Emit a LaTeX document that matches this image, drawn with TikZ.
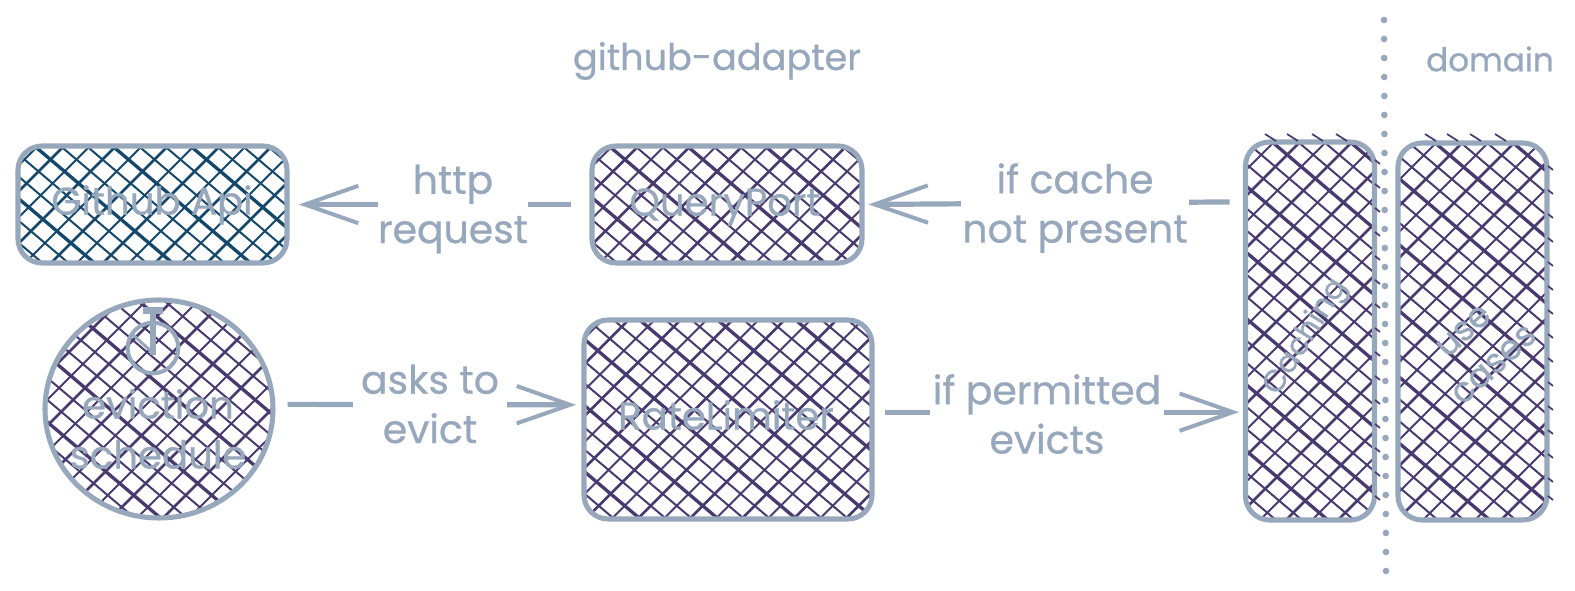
\documentclass[tikz,border=0pt]{standalone}
\usepackage{fontspec}
\usetikzlibrary{arrows.meta,shapes.geometric}
\setmainfont{Poppins}[FakeBold=0.7]
\definecolor{ink}{HTML}{98A8BC}
\definecolor{plum}{HTML}{483A6E}
\definecolor{teal2}{HTML}{14476A}
\tikzset{
  hatchfill/.style={path picture={
    \foreach \i in {-32,...,32}{
      \pgfmathsetmacro\wa{1.5+0.5*mod(\i*\i+\i,3)}
      \pgfmathsetmacro\wb{1.5+0.5*mod(\i*\i+2*\i+1,4)}
      \draw[#1,line width=\wa pt] (\i*26-250+3,-212) -- (\i*26+250+3,212);
      \draw[#1,line width=\wb pt] (\i*26+250+9,-250) -- (\i*26-250+9,250);
    }}},
  boxshape/.style={draw=ink,line width=3.8pt,rounded corners=18pt,inner sep=0pt,
    minimum width=#1},
  txt/.style={text=ink,font=\fontsize{29}{37.5}\selectfont,align=center,inner sep=0pt},
  title/.style={text=ink,font=\fontsize{#1}{34}\selectfont,inner sep=0pt},
  tilted/.style={text=ink,font=\fontsize{#1}{34}\selectfont,align=center,inner sep=0pt},
  lab/.style={text=ink,font=\fontsize{29.5}{37}\selectfont,align=center,fill=white,inner xsep=0pt,inner ysep=2pt},
  conn/.style={draw=ink,line width=3.9pt,-{Straight Barb[length=40pt,width=28pt,line width=3pt]}},
  tick/.style={draw=plum,line width=1.3pt},
}
\begin{document}
\begin{tikzpicture}[x=.75pt,y=-.75pt]
\useasboundingbox (0,0) rectangle (1575,591);

% boxes
\node[boxshape=201.75pt,minimum height=87.75pt,hatchfill=teal2] (github) at (152.5,204.5) {};
\node[boxshape=202.5pt,minimum height=87.75pt,hatchfill=plum] (query) at (727,204.5) {};
\node[boxshape=216pt,minimum height=149.25pt,hatchfill=plum] (rate) at (728,419.5) {};
\node[ellipse,draw=ink,line width=3.8pt,inner sep=0pt,minimum width=171pt,minimum height=163.5pt,hatchfill=plum] (evict) at (159,409) {};
\node[boxshape=96.75pt,minimum height=283.5pt,hatchfill=plum] (caching) at (1310,331) {};
\node[boxshape=111.75pt,minimum height=282.75pt,hatchfill=plum] (usecases) at (1472.5,331.5) {};

% hatch strokes that stray past the outlines
\foreach \x in {1265,1287,1312,1336}{\draw[tick] (\x,134) -- (\x+11,141);}
\foreach \y in {160,184,208,232,256,280,304,328,352,376,400,424,448,472,496}{\draw[tick] (1375,\y) -- (1380,\y+4);}
\foreach \x in {1425,1447,1470,1495}{\draw[tick] (\x,134) -- (\x+11,141);}
\foreach \y in {166,190,214,238,262,286,310,334,358,382,406,430,454,478,496}{\draw[tick] (1548,\y) -- (1553,\y+4);}

% timer icon
\node[circle,draw=ink,line width=3pt,inner sep=0pt,minimum size=38pt] (timer) at (153,348) {};
\draw[draw=ink,line width=5.5pt] (timer.north) ++(-10,-10) -- ++(20,0);
\draw[draw=ink,line width=4.5pt] (timer.north) ++(0,-10) -- ++(0,44);
\draw[draw=ink,line width=2.2pt] (timer.center) ++(-22,-15) -- ++(22,20);

% connectors
\draw[conn,shorten <=14pt,shorten >=7pt] (query.west) -- (github.east);
\draw[conn,shorten <=10pt,shorten >=3pt] ([yshift=2pt]caching.west |- query.west) -- (query.east);
\draw[conn,shorten <=9pt,shorten >=4pt] ([yshift=3.5pt]evict.east) -- ([yshift=11pt]rate.west);
\draw[conn,shorten <=8pt,shorten >=3pt] ([yshift=5.5pt]rate.east) -- ([yshift=5.5pt]rate.east -| caching.west);

% connector labels
\node[lab,minimum width=112.5pt] (lhttp) at (453,209) {http\\request};
\node[lab,minimum width=171pt] (lcache) at (1075,208) {if cache\\not present};
\node[lab,minimum width=115pt] (lasks) at (430,404) {asks to\\evict};
\node[lab,minimum width=175pt] (lperm) at (1047,414) {if permitted\\evicts};

% box labels
\node[txt] (lgithub) at (152,205) {Github Api};
\node[txt] (lquery) at (725,207) {QueryPort};
\node[txt] (lrate) at (726,415) {RateLimiter};
\node[txt] (levict) at (158,429) {eviction\\schedule};
\node[tilted=23,rotate=58] (lcaching) at (1306,337) {Caching};
\node[tilted=26,rotate=42] (lusecases) at (1479,348) {use\\cases};

% titles
\node[title=27.5] (tadapter) at (717,61) {github-adapter};
\node[title=24.5] (tdomain) at (1490,59) {domain};

% divider
\coordinate (dtop) at (1384,20);
\coordinate (dbot) at (1386,572);
\draw[draw=ink,line width=5pt,line cap=round,dash pattern=on 0pt off 14.25pt] (dtop) -- (dbot);
\end{tikzpicture}
\end{document}
